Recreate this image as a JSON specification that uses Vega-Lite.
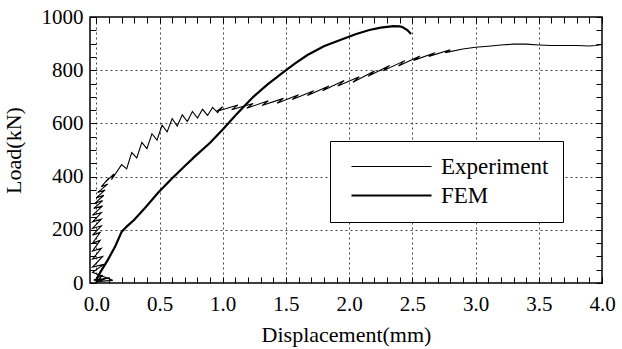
{
  "$schema": "https://vega.github.io/schema/vega-lite/v6.json",
  "width": 512,
  "height": 266,
  "autosize": {"type": "none"},
  "padding": {"left": 90, "top": 17, "right": 20, "bottom": 66},
  "background": "white",
  "config": {
    "font": "Liberation Serif, Times New Roman, serif",
    "view": {"stroke": "black", "strokeWidth": 1.5},
    "axis": {"labelColor": "black", "titleColor": "black", "labelFont": "Liberation Serif, Times New Roman, serif", "titleFont": "Liberation Serif, Times New Roman, serif", "labelFontSize": 21, "titleFontSize": 22, "titleFontWeight": "normal"}
  },
  "data": {"values": [
    {"series": "Experiment", "i": 0, "x": 0, "y": 0},
    {"series": "Experiment", "i": 1, "x": 0.05, "y": 30},
    {"series": "Experiment", "i": 2, "x": -0.02, "y": 10},
    {"series": "Experiment", "i": 3, "x": 0.1, "y": 20},
    {"series": "Experiment", "i": 4, "x": 0.0, "y": 5},
    {"series": "Experiment", "i": 5, "x": 0.13, "y": 10},
    {"series": "Experiment", "i": 6, "x": -0.03, "y": 40},
    {"series": "Experiment", "i": 7, "x": 0.06, "y": 70},
    {"series": "Experiment", "i": 8, "x": -0.03, "y": 60},
    {"series": "Experiment", "i": 9, "x": 0.05, "y": 100},
    {"series": "Experiment", "i": 10, "x": -0.03, "y": 90},
    {"series": "Experiment", "i": 11, "x": 0.04, "y": 130},
    {"series": "Experiment", "i": 12, "x": -0.03, "y": 120},
    {"series": "Experiment", "i": 13, "x": 0.03, "y": 160},
    {"series": "Experiment", "i": 14, "x": -0.03, "y": 150},
    {"series": "Experiment", "i": 15, "x": 0.03, "y": 190},
    {"series": "Experiment", "i": 16, "x": -0.03, "y": 180},
    {"series": "Experiment", "i": 17, "x": 0.04, "y": 215},
    {"series": "Experiment", "i": 18, "x": -0.03, "y": 205},
    {"series": "Experiment", "i": 19, "x": 0.04, "y": 240},
    {"series": "Experiment", "i": 20, "x": -0.03, "y": 230},
    {"series": "Experiment", "i": 21, "x": 0.04, "y": 265},
    {"series": "Experiment", "i": 22, "x": -0.03, "y": 255},
    {"series": "Experiment", "i": 23, "x": 0.05, "y": 290},
    {"series": "Experiment", "i": 24, "x": -0.02, "y": 280},
    {"series": "Experiment", "i": 25, "x": 0.05, "y": 310},
    {"series": "Experiment", "i": 26, "x": -0.01, "y": 300},
    {"series": "Experiment", "i": 27, "x": 0.06, "y": 330},
    {"series": "Experiment", "i": 28, "x": 0.0, "y": 320},
    {"series": "Experiment", "i": 29, "x": 0.07, "y": 350},
    {"series": "Experiment", "i": 30, "x": 0.01, "y": 340},
    {"series": "Experiment", "i": 31, "x": 0.09, "y": 372},
    {"series": "Experiment", "i": 32, "x": 0.04, "y": 362},
    {"series": "Experiment", "i": 33, "x": 0.10, "y": 395},
    {"series": "Experiment", "i": 34, "x": 0.07, "y": 378},
    {"series": "Experiment", "i": 35, "x": 0.14, "y": 410},
    {"series": "Experiment", "i": 36, "x": 0.12, "y": 388},
    {"series": "Experiment", "i": 37, "x": 0.20, "y": 445},
    {"series": "Experiment", "i": 38, "x": 0.24, "y": 429},
    {"series": "Experiment", "i": 39, "x": 0.28, "y": 490},
    {"series": "Experiment", "i": 40, "x": 0.32, "y": 470},
    {"series": "Experiment", "i": 41, "x": 0.36, "y": 529},
    {"series": "Experiment", "i": 42, "x": 0.40, "y": 505},
    {"series": "Experiment", "i": 43, "x": 0.44, "y": 561},
    {"series": "Experiment", "i": 44, "x": 0.48, "y": 537},
    {"series": "Experiment", "i": 45, "x": 0.52, "y": 593},
    {"series": "Experiment", "i": 46, "x": 0.56, "y": 568},
    {"series": "Experiment", "i": 47, "x": 0.60, "y": 618},
    {"series": "Experiment", "i": 48, "x": 0.64, "y": 590},
    {"series": "Experiment", "i": 49, "x": 0.68, "y": 632},
    {"series": "Experiment", "i": 50, "x": 0.72, "y": 607},
    {"series": "Experiment", "i": 51, "x": 0.76, "y": 645},
    {"series": "Experiment", "i": 52, "x": 0.80, "y": 620},
    {"series": "Experiment", "i": 53, "x": 0.84, "y": 653},
    {"series": "Experiment", "i": 54, "x": 0.88, "y": 630},
    {"series": "Experiment", "i": 55, "x": 0.92, "y": 660},
    {"series": "Experiment", "i": 56, "x": 0.96, "y": 640},
    {"series": "Experiment", "i": 57, "x": 1.00, "y": 663},
    {"series": "Experiment", "i": 58, "x": 0.95, "y": 645},
    {"series": "Experiment", "i": 59, "x": 1.12, "y": 669},
    {"series": "Experiment", "i": 60, "x": 1.07, "y": 651},
    {"series": "Experiment", "i": 61, "x": 1.24, "y": 675},
    {"series": "Experiment", "i": 62, "x": 1.19, "y": 657},
    {"series": "Experiment", "i": 63, "x": 1.36, "y": 685},
    {"series": "Experiment", "i": 64, "x": 1.31, "y": 667},
    {"series": "Experiment", "i": 65, "x": 1.48, "y": 694},
    {"series": "Experiment", "i": 66, "x": 1.43, "y": 676},
    {"series": "Experiment", "i": 67, "x": 1.60, "y": 708},
    {"series": "Experiment", "i": 68, "x": 1.55, "y": 690},
    {"series": "Experiment", "i": 69, "x": 1.72, "y": 723},
    {"series": "Experiment", "i": 70, "x": 1.67, "y": 705},
    {"series": "Experiment", "i": 71, "x": 1.84, "y": 741},
    {"series": "Experiment", "i": 72, "x": 1.79, "y": 723},
    {"series": "Experiment", "i": 73, "x": 1.96, "y": 761},
    {"series": "Experiment", "i": 74, "x": 1.91, "y": 741},
    {"series": "Experiment", "i": 75, "x": 2.08, "y": 775},
    {"series": "Experiment", "i": 76, "x": 2.03, "y": 755},
    {"series": "Experiment", "i": 77, "x": 2.20, "y": 797},
    {"series": "Experiment", "i": 78, "x": 2.15, "y": 777},
    {"series": "Experiment", "i": 79, "x": 2.32, "y": 818},
    {"series": "Experiment", "i": 80, "x": 2.27, "y": 798},
    {"series": "Experiment", "i": 81, "x": 2.44, "y": 836},
    {"series": "Experiment", "i": 82, "x": 2.39, "y": 816},
    {"series": "Experiment", "i": 83, "x": 2.56, "y": 853},
    {"series": "Experiment", "i": 84, "x": 2.51, "y": 837},
    {"series": "Experiment", "i": 85, "x": 2.68, "y": 866},
    {"series": "Experiment", "i": 86, "x": 2.63, "y": 852},
    {"series": "Experiment", "i": 87, "x": 2.80, "y": 877},
    {"series": "Experiment", "i": 88, "x": 2.76, "y": 866},
    {"series": "Experiment", "i": 89, "x": 2.9, "y": 880},
    {"series": "Experiment", "i": 90, "x": 3.0, "y": 886},
    {"series": "Experiment", "i": 91, "x": 3.1, "y": 890},
    {"series": "Experiment", "i": 92, "x": 3.2, "y": 895},
    {"series": "Experiment", "i": 93, "x": 3.3, "y": 898},
    {"series": "Experiment", "i": 94, "x": 3.4, "y": 898},
    {"series": "Experiment", "i": 95, "x": 3.5, "y": 895},
    {"series": "Experiment", "i": 96, "x": 3.6, "y": 893},
    {"series": "Experiment", "i": 97, "x": 3.7, "y": 893},
    {"series": "Experiment", "i": 98, "x": 3.8, "y": 893},
    {"series": "Experiment", "i": 99, "x": 3.9, "y": 891},
    {"series": "Experiment", "i": 100, "x": 3.95, "y": 893},
    {"series": "Experiment", "i": 101, "x": 4.0, "y": 897},
    {"series": "FEM", "i": 200, "x": 0, "y": 0},
    {"series": "FEM", "i": 201, "x": 0.01, "y": 23},
    {"series": "FEM", "i": 202, "x": 0.05, "y": 55},
    {"series": "FEM", "i": 203, "x": 0.09, "y": 86},
    {"series": "FEM", "i": 204, "x": 0.15, "y": 138},
    {"series": "FEM", "i": 205, "x": 0.2, "y": 192},
    {"series": "FEM", "i": 206, "x": 0.24, "y": 212},
    {"series": "FEM", "i": 207, "x": 0.3, "y": 238},
    {"series": "FEM", "i": 208, "x": 0.39, "y": 285},
    {"series": "FEM", "i": 209, "x": 0.49, "y": 340},
    {"series": "FEM", "i": 210, "x": 0.6, "y": 394},
    {"series": "FEM", "i": 211, "x": 0.7, "y": 440},
    {"series": "FEM", "i": 212, "x": 0.78, "y": 476},
    {"series": "FEM", "i": 213, "x": 0.9, "y": 527},
    {"series": "FEM", "i": 214, "x": 1.0, "y": 577},
    {"series": "FEM", "i": 215, "x": 1.1, "y": 630},
    {"series": "FEM", "i": 216, "x": 1.16, "y": 660},
    {"series": "FEM", "i": 217, "x": 1.24, "y": 699},
    {"series": "FEM", "i": 218, "x": 1.35, "y": 745},
    {"series": "FEM", "i": 219, "x": 1.48, "y": 793},
    {"series": "FEM", "i": 220, "x": 1.57, "y": 825},
    {"series": "FEM", "i": 221, "x": 1.67, "y": 857},
    {"series": "FEM", "i": 222, "x": 1.8, "y": 890},
    {"series": "FEM", "i": 223, "x": 1.95, "y": 917},
    {"series": "FEM", "i": 224, "x": 2.05, "y": 935},
    {"series": "FEM", "i": 225, "x": 2.16, "y": 951},
    {"series": "FEM", "i": 226, "x": 2.25, "y": 960},
    {"series": "FEM", "i": 227, "x": 2.35, "y": 966},
    {"series": "FEM", "i": 228, "x": 2.4, "y": 965},
    {"series": "FEM", "i": 229, "x": 2.42, "y": 962},
    {"series": "FEM", "i": 230, "x": 2.46, "y": 951},
    {"series": "FEM", "i": 231, "x": 2.49, "y": 936}
  ]},
  "layer": [
    {
      "mark": {"type": "line", "color": "black", "clip": true},
      "encoding": {
        "x": {"field": "x", "type": "quantitative", "scale": {"domain": [-0.05, 4.0], "nice": false, "zero": false},
          "axis": {"orient": "bottom", "title": "Displacement(mm)", "values": [0,0.1,0.2,0.3,0.4,0.5,0.6,0.7,0.8,0.9,1,1.1,1.2,1.3,1.4,1.5,1.6,1.7,1.8,1.9,2,2.1,2.2,2.3,2.4,2.5,2.6,2.7,2.8,2.9,3,3.1,3.2,3.3,3.4,3.5,3.6,3.7,3.8,3.9,4],
            "labelExpr": "abs(datum.value*2 - round(datum.value*2)) < 0.001 ? format(datum.value, '.1f') : ''",
            "domain": false, "tickSize": -6, "tickColor": "black", "tickWidth": 1, "labelPadding": 16, "labelFlush": false, "labelOverlap": false,
            "grid": true, "gridColor": "#444", "gridDash": [2, 3], "gridWidth": 1,
            "gridOpacity": {"condition": {"test": "abs(datum.value*2 - round(datum.value*2)) < 0.001", "value": 1}, "value": 0},
            "titlePadding": 10}},
        "y": {"field": "y", "type": "quantitative", "scale": {"domain": [0, 1000], "nice": false},
          "axis": {"orient": "left", "title": "Load(kN)", "values": [0,50,100,150,200,250,300,350,400,450,500,550,600,650,700,750,800,850,900,950,1000],
            "labelExpr": "datum.value % 200 == 0 ? format(datum.value, 'd') : ''",
            "domain": false, "tickSize": -6, "tickColor": "black", "tickWidth": 1, "labelPadding": 13, "labelOverlap": false, "labelFlush": false,
            "grid": true, "gridColor": "#444", "gridDash": [2, 3], "gridWidth": 1,
            "gridOpacity": {"condition": {"test": "datum.value % 200 == 0", "value": 1}, "value": 0},
            "titlePadding": 16}},
        "order": {"field": "i", "type": "quantitative"},
        "detail": {"field": "series"},
        "strokeWidth": {"field": "series", "type": "ordinal", "scale": {"domain": ["Experiment", "FEM"], "range": [1.1, 2.2]},
          "legend": {"title": null, "orient": "none", "legendX": 240, "legendY": 124, "symbolType": "M-4,0H4", "symbolStrokeColor": "black", "symbolSize": 400,
            "labelFont": "Liberation Serif, Times New Roman, serif", "labelFontSize": 23, "labelColor": "black", "labelOffset": 38, "strokeColor": "black", "fillColor": "white",
            "padding": 14, "symbolOffset": 36, "rowPadding": 5, "labelLimit": 300}}
      }
    },
    {
      "mark": {"type": "line", "opacity": 0},
      "encoding": {
        "x": {"field": "x", "type": "quantitative",
          "axis": {"orient": "top", "title": null, "labels": false, "domain": false, "grid": false, "tickSize": -6, "tickColor": "black",
            "values": [0,0.1,0.2,0.3,0.4,0.5,0.6,0.7,0.8,0.9,1,1.1,1.2,1.3,1.4,1.5,1.6,1.7,1.8,1.9,2,2.1,2.2,2.3,2.4,2.5,2.6,2.7,2.8,2.9,3,3.1,3.2,3.3,3.4,3.5,3.6,3.7,3.8,3.9,4]}},
        "y": {"field": "y", "type": "quantitative",
          "axis": {"orient": "right", "title": null, "labels": false, "domain": false, "grid": false, "tickSize": -6, "tickColor": "black",
            "values": [0,50,100,150,200,250,300,350,400,450,500,550,600,650,700,750,800,850,900,950,1000]}}
      }
    }
  ],
  "resolve": {"axis": {"x": "independent", "y": "independent"}}
}
